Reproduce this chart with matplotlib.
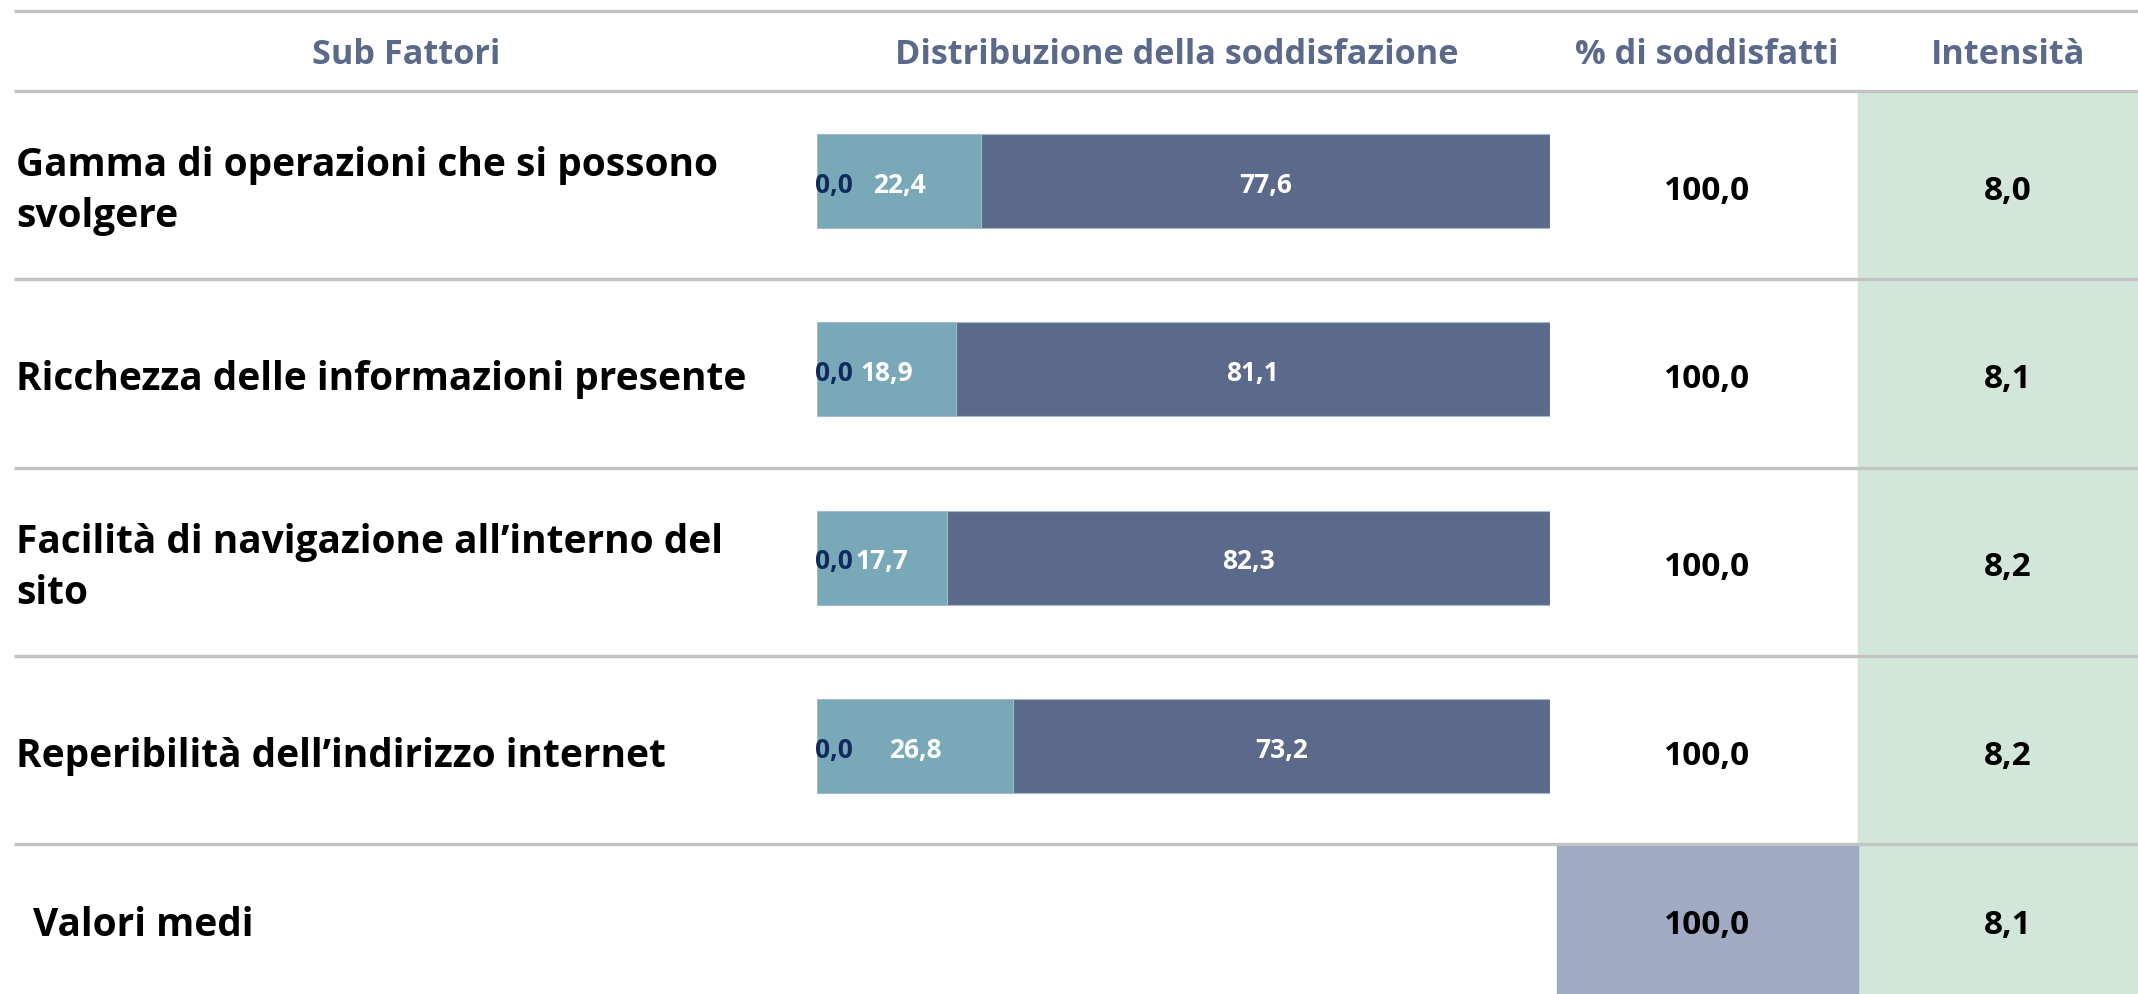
import matplotlib
matplotlib.use("Agg")
import matplotlib.pyplot as plt
from matplotlib.patches import Rectangle

# table content
headers = ["Sub Fattori", "Distribuzione della soddisfazione", "% di soddisfatti", "Intensità"]
sub_factors = [
    "Gamma di operazioni che si possono\nsvolgere",
    "Ricchezza delle informazioni presente",
    "Facilità di navigazione all\u2019interno del\nsito",
    "Reperibilità dell\u2019indirizzo internet",
]
share_low = [0.0, 0.0, 0.0, 0.0]
share_mid = [22.4, 18.9, 17.7, 26.8]
share_high = [77.6, 81.1, 82.3, 73.2]
pct_satisfied = [100.0, 100.0, 100.0, 100.0]
intensity = [8.0, 8.1, 8.2, 8.2]
mean_label = "Valori medi"
mean_satisfied = 100.0
mean_intensity = 8.1

W, H = 2138, 994
C_LOW = "#0E2A5E"
C_MID = "#79A8B8"
C_HIGH = "#5B6A8A"
C_HEAD = "#5B6A8A"
C_GREEN = "#D2E7DA"
C_MEAN = "#A0AAC2"
C_LINE = "#C3C3C3"

FONT = ["Open Sans", "DejaVu Sans"]


def fmt(v):
    return f"{v:.1f}".replace(".", ",")


fig = plt.figure(figsize=(W / 100, H / 100), dpi=100)
ax = fig.add_axes([0, 0, 1, 1])
ax.set_xlim(0, W)
ax.set_ylim(H, 0)
ax.axis("off")

top_y, head_y = 11, 91
pitch = 188.3
row_edges = [head_y + pitch * i for i in range(len(sub_factors) + 1)]
row_mid = [(row_edges[i] + row_edges[i + 1]) / 2 for i in range(len(sub_factors))]
mean_mid = (row_edges[-1] + H) / 2
dy = 6  # text sits a bit lower than the geometric centre

# coloured cells
ax.add_patch(Rectangle((1858, head_y), W - 1858, H - head_y, color=C_GREEN, zorder=0))
ax.add_patch(Rectangle((1557, row_edges[-1] + 2), 1858 - 1557, H - row_edges[-1], color=C_MEAN, zorder=0))

# rules
for y in [top_y, head_y] + row_edges[1:]:
    ax.plot([14, W], [y, y], color=C_LINE, lw=2.4, zorder=1, solid_capstyle="butt")

# headers
head_x = [406, 1177, 1707, 2008]
for x, t in zip(head_x, headers):
    ax.text(x, 55, t, ha="center", va="center", color=C_HEAD, fontsize=24.7,
            fontweight="bold", family=FONT)

# row labels and numeric columns
for i, name in enumerate(sub_factors):
    y = row_mid[i] + dy
    ax.text(16, y, name, ha="left", va="center", color="black", fontsize=28,
            fontweight="bold", family=FONT, linespacing=1.4)
    ax.text(1707, y, fmt(pct_satisfied[i]), ha="center", va="center",
            fontsize=24, fontweight="bold", family=FONT)
    ax.text(2008, y, fmt(intensity[i]), ha="center", va="center",
            fontsize=24, fontweight="bold", family=FONT)

ax.text(33, mean_mid + dy, mean_label, ha="left", va="center", fontsize=28,
        fontweight="bold", family=FONT)
ax.text(1707, mean_mid + dy, fmt(mean_satisfied), ha="center", va="center",
        fontsize=24, fontweight="bold", family=FONT)
ax.text(2008, mean_mid + dy, fmt(mean_intensity), ha="center", va="center",
        fontsize=24, fontweight="bold", family=FONT)

# stacked bars
axb = fig.add_axes([817 / W, 0, (1550 - 817) / W, 1])
axb.set_xlim(0, 100)
axb.set_ylim(H, 0)
axb.axis("off")
bar_y = [m - 4 for m in row_mid]
bar_h = 94
mid_left = share_low
high_left = [a + b for a, b in zip(share_low, share_mid)]
axb.barh(bar_y, share_low, height=bar_h, color=C_LOW)
axb.barh(bar_y, share_mid, left=mid_left, height=bar_h, color=C_MID,
         edgecolor="#A8B8C8", linewidth=0.8)
axb.barh(bar_y, share_high, left=high_left, height=bar_h, color=C_HIGH,
         edgecolor="#A8B8C8", linewidth=0.8)

for i in range(len(sub_factors)):
    y = bar_y[i] + 4
    axb.text(-0.3, y, fmt(share_low[i]), ha="left", va="center",
             color=C_LOW, fontsize=19, fontweight="bold", family=FONT)
    axb.text(mid_left[i] + share_mid[i] / 2, y, fmt(share_mid[i]), ha="center",
             va="center", color="white", fontsize=19, fontweight="bold", family=FONT)
    axb.text(high_left[i] + share_high[i] / 2, y, fmt(share_high[i]), ha="center",
             va="center", color="white", fontsize=19, fontweight="bold", family=FONT)

fig.savefig("out.png", dpi=100)
